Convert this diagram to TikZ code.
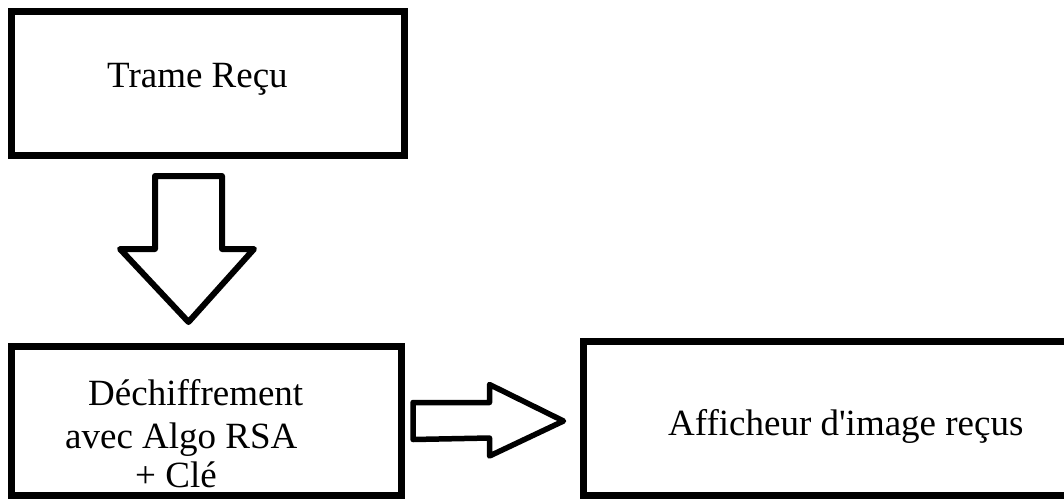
\documentclass[tikz,border=0pt]{standalone}
\usepackage{fontspec}
\setmainfont{Liberation Serif}[Ligatures=TeXReset]
\usetikzlibrary{calc}
\begin{document}
\begin{tikzpicture}[x=1pt,y=-1pt,
  box/.style={draw=black, line width=7pt, fill=white, inner sep=0pt},
  blockarrow/.style={draw=black, fill=white, line join=round},
  label/.style={anchor=base west, inner sep=0pt, font=\fontsize{37}{42}\selectfont}]
  \clip (0,0) rectangle (1064,498);
  \fill[white] (0,0) rectangle (1064,498);

  % three process boxes (the display box runs past the right edge)
  \node[box, minimum width=393pt, minimum height=143.5pt] (trame) at (208,83.25) {};
  \node[box, minimum width=390pt, minimum height=149pt] (dechif) at (206.5,421) {};
  \node[box, minimum width=497pt, minimum height=154pt] (afficheur) at (831.75,418.5) {};

  % box texts
  \node[label] (t1) at (107,87) {Trame Reçu};
  \node[label] (d1) at (88,405) {Déchiffrement};
  \node[label] (d2) at (65,448) {avec Algo RSA};
  \node[label] (d3) at (135,487) {+ Clé};
  \node[label] (a1) at (668,435) {Afficheur d'image reçus};

  % hollow block arrow: received frame -> decryption
  \coordinate (downtail) at (188.5,176);
  \draw[blockarrow, line width=6pt]
    ($(downtail)+(-33.5,0)$) -- ++(67,0) -- ++(0,73) -- ++(32,0)
    -- (188.5,322) -- (120,249) -- ++(35,0) -- cycle;

  % hollow block arrow: decryption -> image display
  \coordinate (righttail) at (413,421);
  \draw[blockarrow, line width=5.5pt]
    ($(righttail)+(0,-18.5)$) -- ++(76.5,0) -- ++(0,-18) -- (563.5,421)
    -- (489.5,456) -- ++(0,-18) -- (413,439.5) -- cycle;
\end{tikzpicture}
\end{document}
